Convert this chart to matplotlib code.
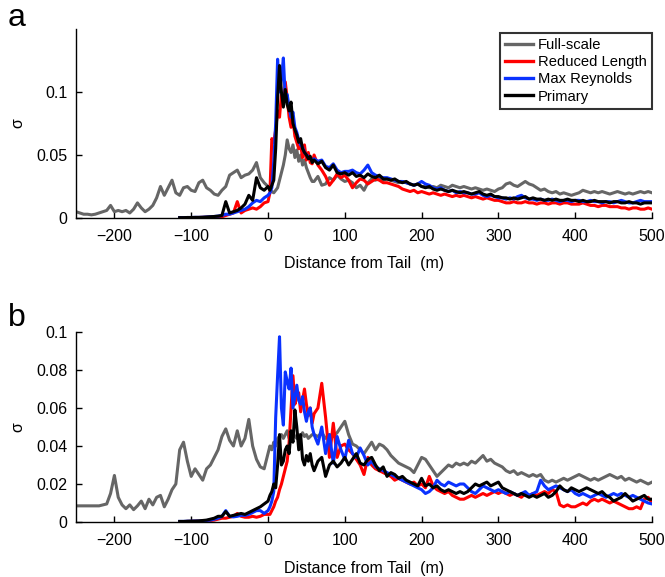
import numpy as np
import matplotlib
matplotlib.use("Agg")
import matplotlib.pyplot as plt
from matplotlib.ticker import FixedLocator, FuncFormatter

plt.rcParams['font.family'] = ['Liberation Sans', 'DejaVu Sans']

# ---------------- sampling grids (distance from tail, m) ----------------
X_PRE_G = np.arange(-250, 0, 5)          # full-scale only, before tail
X_PRE_C = np.arange(-115, 0, 5)          # other cases, before tail
X_PEAK = np.arange(0, 60, 2.5)
X_POST = np.arange(60, 500.1, 5)
XG = np.concatenate([X_PRE_G, X_PEAK, X_POST])
XC = np.concatenate([X_PRE_C, X_PEAK, X_POST])

labels = ["Full-scale", "Reduced Length", "Max Reynolds", "Primary"]
colors = ["#666666", "#ff0000", "#0a32ff", "#000000"]

# ================= panel a =================
a_full = (
    [0.005, 0.004, 0.003, 0.003, 0.0025, 0.003, 0.004, 0.005, 0.006, 0.010,
     0.005, 0.006, 0.005, 0.006, 0.004, 0.007, 0.012, 0.008, 0.005, 0.007,
     0.010, 0.016, 0.025, 0.018, 0.024, 0.030, 0.020, 0.018, 0.024, 0.025,
     0.022, 0.021, 0.028, 0.030, 0.024, 0.022, 0.019, 0.018, 0.022, 0.025,
     0.034, 0.036, 0.038, 0.032, 0.034, 0.035, 0.038, 0.044, 0.032, 0.028]
    + [0.025, 0.022, 0.021, 0.020, 0.022, 0.024, 0.030, 0.036, 0.042, 0.050,
       0.062, 0.055, 0.052, 0.058, 0.048, 0.054, 0.045, 0.050, 0.042, 0.046,
       0.040, 0.036, 0.032, 0.029]
    + [0.029, 0.033, 0.026, 0.027, 0.032, 0.030, 0.034, 0.031, 0.029,
       0.030, 0.028, 0.024, 0.026, 0.022, 0.028, 0.031, 0.030, 0.032, 0.030,
       0.031, 0.030, 0.029, 0.028, 0.029, 0.028, 0.027, 0.026, 0.027, 0.025,
       0.025, 0.024, 0.025, 0.024, 0.026, 0.025, 0.024, 0.026, 0.025, 0.024,
       0.025, 0.024, 0.023, 0.024, 0.023, 0.022, 0.023, 0.022, 0.021, 0.023,
       0.024, 0.027, 0.028, 0.026, 0.025, 0.027, 0.029, 0.027, 0.026, 0.024,
       0.022, 0.023, 0.021, 0.020, 0.021, 0.019, 0.020, 0.019, 0.018, 0.019,
       0.020, 0.022, 0.021, 0.020, 0.021, 0.020, 0.021, 0.020, 0.019, 0.020,
       0.021, 0.020, 0.019, 0.020, 0.019, 0.020, 0.021, 0.020, 0.021, 0.020]
)

a_red = (
    [0.0002, 0.0002, 0.0003, 0.0003, 0.0004, 0.0004, 0.0005, 0.0006, 0.0008, 0.0009,
     0.0010, 0.001, 0.002, 0.003, 0.004, 0.013, 0.004, 0.006, 0.007, 0.008, 0.007, 0.009, 0.012]
    + [0.013, 0.020, 0.063, 0.060, 0.070, 0.085, 0.080, 0.098, 0.090, 0.108,
       0.095, 0.080, 0.072, 0.078, 0.065, 0.060, 0.055, 0.058, 0.048, 0.058,
       0.046, 0.052, 0.044, 0.043]
    + [0.050, 0.042, 0.038, 0.033, 0.026, 0.030, 0.035, 0.032, 0.034,
       0.030, 0.024, 0.028, 0.031, 0.030, 0.027, 0.029, 0.031, 0.030, 0.028,
       0.028, 0.027, 0.026, 0.025, 0.023, 0.022, 0.021, 0.022, 0.020, 0.021,
       0.020, 0.019, 0.020, 0.019, 0.018, 0.019, 0.018, 0.017, 0.018, 0.017,
       0.018, 0.017, 0.016, 0.017, 0.016, 0.015, 0.016, 0.015, 0.014, 0.014,
       0.013, 0.012, 0.012, 0.013, 0.012, 0.012, 0.013, 0.012, 0.012, 0.011,
       0.012, 0.012, 0.011, 0.012, 0.012, 0.011, 0.012, 0.012, 0.011, 0.011,
       0.011, 0.012, 0.011, 0.010, 0.010, 0.009, 0.010, 0.010, 0.009, 0.009,
       0.009, 0.008, 0.008, 0.007, 0.008, 0.008, 0.007, 0.007, 0.008, 0.007]
)

a_blue = (
    [0.0003, 0.0003, 0.0004, 0.0004, 0.0005, 0.0005, 0.0006, 0.0008, 0.0010, 0.0012,
     0.0015, 0.002, 0.003, 0.003, 0.004, 0.005, 0.006, 0.007, 0.009, 0.012, 0.014, 0.013, 0.016]
    + [0.018, 0.020, 0.024, 0.045, 0.075, 0.126, 0.100, 0.110, 0.127, 0.095,
       0.098, 0.088, 0.080, 0.084, 0.072, 0.068, 0.062, 0.058, 0.056, 0.052,
       0.050, 0.049, 0.047, 0.046]
    + [0.047, 0.045, 0.046, 0.041, 0.040, 0.043, 0.038, 0.036, 0.037,
       0.037, 0.038, 0.036, 0.035, 0.038, 0.042, 0.036, 0.034, 0.033, 0.032,
       0.032, 0.031, 0.030, 0.029, 0.029, 0.028, 0.027, 0.026, 0.027, 0.029,
       0.027, 0.026, 0.024, 0.023, 0.024, 0.022, 0.021, 0.022, 0.020, 0.021,
       0.020, 0.020, 0.019, 0.019, 0.020, 0.018, 0.017, 0.018, 0.017, 0.016,
       0.016, 0.015, 0.016, 0.015, 0.017, 0.018, 0.016, 0.015, 0.015, 0.014,
       0.015, 0.014, 0.014, 0.015, 0.014, 0.013, 0.014, 0.014, 0.013, 0.014,
       0.014, 0.013, 0.013, 0.014, 0.013, 0.013, 0.012, 0.013, 0.013, 0.012,
       0.013, 0.014, 0.013, 0.012, 0.012, 0.013, 0.014, 0.013, 0.013, 0.013]
)

a_black = (
    [0.0003, 0.0003, 0.0004, 0.0004, 0.0005, 0.0005, 0.0006, 0.0008, 0.0010, 0.0012,
     0.0015, 0.002, 0.013, 0.004, 0.005, 0.006, 0.008, 0.011, 0.018, 0.014, 0.032, 0.024, 0.022]
    + [0.025, 0.022, 0.026, 0.030, 0.055, 0.095, 0.121, 0.100, 0.088, 0.102,
       0.090, 0.085, 0.092, 0.075, 0.070, 0.066, 0.060, 0.063, 0.055, 0.052,
       0.050, 0.047, 0.049, 0.044]
    + [0.046, 0.043, 0.045, 0.040, 0.038, 0.042, 0.036, 0.035, 0.036,
       0.034, 0.036, 0.033, 0.034, 0.032, 0.035, 0.033, 0.032, 0.034, 0.031,
       0.031, 0.030, 0.031, 0.029, 0.028, 0.029, 0.027, 0.026, 0.027, 0.025,
       0.024, 0.025, 0.023, 0.022, 0.023, 0.022, 0.021, 0.022, 0.021, 0.020,
       0.021, 0.020, 0.019, 0.020, 0.021, 0.019, 0.018, 0.019, 0.017, 0.017,
       0.016, 0.016, 0.015, 0.016, 0.015, 0.016, 0.017, 0.015, 0.016, 0.015,
       0.015, 0.014, 0.015, 0.014, 0.015, 0.014, 0.014, 0.015, 0.014, 0.014,
       0.013, 0.014, 0.013, 0.013, 0.014, 0.013, 0.013, 0.013, 0.012, 0.013,
       0.013, 0.012, 0.012, 0.013, 0.012, 0.012, 0.011, 0.012, 0.012, 0.012]
)

# ================= panel b =================
b_full = (
    [0.0085, 0.0085, 0.0085, 0.0085, 0.0085, 0.0085, 0.0085, 0.009, 0.0095, 0.015,
     0.0245, 0.013, 0.009, 0.007, 0.009, 0.0065, 0.0085, 0.011, 0.007, 0.012,
     0.009, 0.013, 0.014, 0.008, 0.012, 0.017, 0.020, 0.038, 0.042, 0.032,
     0.024, 0.028, 0.025, 0.022, 0.028, 0.030, 0.034, 0.038, 0.045, 0.049,
     0.043, 0.040, 0.048, 0.040, 0.044, 0.054, 0.040, 0.033, 0.029, 0.028]
    + [0.036, 0.040, 0.038, 0.042, 0.040, 0.044, 0.045, 0.046, 0.044, 0.046,
       0.048, 0.044, 0.046, 0.047, 0.045, 0.044, 0.046, 0.045, 0.047, 0.045,
       0.046, 0.044, 0.045, 0.046]
    + [0.046, 0.045, 0.047, 0.044, 0.046, 0.045, 0.047, 0.050, 0.053,
       0.046, 0.041, 0.040, 0.038, 0.036, 0.039, 0.042, 0.038, 0.041, 0.040,
       0.038, 0.035, 0.033, 0.031, 0.030, 0.029, 0.028, 0.026, 0.030, 0.034,
       0.033, 0.030, 0.027, 0.024, 0.026, 0.028, 0.030, 0.029, 0.031, 0.030,
       0.031, 0.030, 0.032, 0.031, 0.033, 0.035, 0.032, 0.033, 0.031, 0.030,
       0.029, 0.027, 0.026, 0.027, 0.025, 0.026, 0.025, 0.024, 0.025, 0.024,
       0.025, 0.022, 0.021, 0.022, 0.021, 0.022, 0.023, 0.022, 0.023, 0.024,
       0.025, 0.024, 0.023, 0.022, 0.023, 0.022, 0.023, 0.024, 0.025, 0.024,
       0.023, 0.024, 0.022, 0.023, 0.022, 0.021, 0.022, 0.021, 0.020, 0.021]
)

b_red = (
    [0.0002, 0.0002, 0.0003, 0.0003, 0.0004, 0.0004, 0.0005, 0.0006, 0.0008, 0.001,
     0.0015, 0.002, 0.002, 0.0025, 0.003, 0.0045, 0.003, 0.0025, 0.0025, 0.003, 0.0025, 0.003, 0.004]
    + [0.004, 0.004, 0.006, 0.008, 0.011, 0.013, 0.017, 0.020, 0.024, 0.028,
       0.032, 0.042, 0.060, 0.077, 0.062, 0.066, 0.068, 0.058, 0.064, 0.070,
       0.062, 0.056, 0.060, 0.052]
    + [0.057, 0.060, 0.073, 0.055, 0.034, 0.052, 0.034, 0.040, 0.041,
       0.038, 0.036, 0.033, 0.030, 0.025, 0.034, 0.030, 0.028, 0.027, 0.026,
       0.025, 0.024, 0.022, 0.023, 0.022, 0.021, 0.020, 0.021, 0.019, 0.020,
       0.018, 0.024, 0.019, 0.017, 0.016, 0.015, 0.016, 0.014, 0.013, 0.012,
       0.012, 0.013, 0.014, 0.013, 0.014, 0.015, 0.014, 0.015, 0.016, 0.015,
       0.016, 0.015, 0.014, 0.015, 0.014, 0.013, 0.015, 0.014, 0.015, 0.014,
       0.015, 0.016, 0.015, 0.017, 0.016, 0.009, 0.008, 0.009, 0.008, 0.008,
       0.009, 0.010, 0.009, 0.011, 0.012, 0.011, 0.012, 0.011, 0.010, 0.011,
       0.010, 0.009, 0.008, 0.007, 0.007, 0.008, 0.007, 0.012, 0.013, 0.010]
)

b_blue = (
    [0.0003, 0.0003, 0.0004, 0.0004, 0.0005, 0.0005, 0.0006, 0.0008, 0.001, 0.0015,
     0.002, 0.003, 0.006, 0.003, 0.0027, 0.003, 0.0035, 0.0035, 0.004, 0.005, 0.006, 0.006, 0.0045]
    + [0.006, 0.008, 0.011, 0.016, 0.055, 0.077, 0.0975, 0.060, 0.051, 0.079,
       0.074, 0.070, 0.081, 0.060, 0.066, 0.072, 0.064, 0.062, 0.066, 0.058,
       0.053, 0.058, 0.060, 0.050]
    + [0.046, 0.041, 0.050, 0.036, 0.046, 0.031, 0.045, 0.038, 0.033,
       0.043, 0.036, 0.034, 0.039, 0.035, 0.030, 0.032, 0.029, 0.028, 0.027,
       0.026, 0.025, 0.024, 0.023, 0.022, 0.021, 0.020, 0.019, 0.018, 0.017,
       0.015, 0.016, 0.018, 0.022, 0.020, 0.019, 0.021, 0.020, 0.019, 0.020,
       0.020, 0.018, 0.016, 0.015, 0.017, 0.019, 0.018, 0.017, 0.016, 0.017,
       0.016, 0.015, 0.016, 0.015, 0.014, 0.015, 0.016, 0.014, 0.015, 0.016,
       0.022, 0.019, 0.017, 0.018, 0.019, 0.018, 0.017, 0.016, 0.017, 0.015,
       0.014, 0.015, 0.014, 0.013, 0.014, 0.015, 0.014, 0.013, 0.014, 0.015,
       0.014, 0.015, 0.014, 0.013, 0.014, 0.013, 0.012, 0.011, 0.010, 0.0095]
)

b_black = (
    [0.0003, 0.0003, 0.0004, 0.0005, 0.0005, 0.0006, 0.0008, 0.001, 0.0015, 0.002,
     0.003, 0.003, 0.0055, 0.003, 0.0035, 0.004, 0.0045, 0.004, 0.005, 0.006, 0.007, 0.008, 0.0095]
    + [0.011, 0.014, 0.016, 0.020, 0.018, 0.030, 0.046, 0.030, 0.032, 0.038,
       0.040, 0.036, 0.048, 0.042, 0.059, 0.050, 0.038, 0.046, 0.033, 0.030,
       0.035, 0.032, 0.036, 0.030]
    + [0.027, 0.032, 0.034, 0.024, 0.030, 0.032, 0.029, 0.031, 0.034,
       0.030, 0.033, 0.036, 0.031, 0.030, 0.033, 0.034, 0.030, 0.027, 0.029,
       0.024, 0.026, 0.025, 0.023, 0.024, 0.022, 0.021, 0.020, 0.019, 0.023,
       0.019, 0.020, 0.018, 0.019, 0.017, 0.016, 0.017, 0.016, 0.015, 0.016,
       0.015, 0.016, 0.018, 0.020, 0.019, 0.020, 0.021, 0.019, 0.020, 0.021,
       0.018, 0.017, 0.016, 0.015, 0.014, 0.015, 0.014, 0.013, 0.014, 0.013,
       0.014, 0.015, 0.013, 0.014, 0.016, 0.019, 0.017, 0.016, 0.018, 0.017,
       0.016, 0.017, 0.018, 0.017, 0.016, 0.015, 0.016, 0.014, 0.013, 0.011,
       0.012, 0.013, 0.015, 0.013, 0.011, 0.012, 0.013, 0.014, 0.012, 0.012]
)

x_ticks = [-200, -100, 0, 100, 200, 300, 400, 500]
a_yticks = [0, 0.05, 0.1]
b_yticks = [0, 0.02, 0.04, 0.06, 0.08, 0.1]

# ---------------- figure ----------------
W, H = 665, 577
fig = plt.figure(figsize=(W / 100, H / 100), dpi=100)

def px_axes(left, top, right, bottom):
    return fig.add_axes([left / W, 1 - bottom / H, (right - left) / W, (bottom - top) / H])

ax_a = px_axes(76, 29, 652, 218)
ax_b = px_axes(76, 332, 652, 522)

def fmt_num(v, pos=None):
    s = ("%g" % v)
    return s.replace("-", "\u2212")

series = {
    ax_a: [a_full, a_red, a_blue, a_black],
    ax_b: [b_full, b_red, b_blue, b_black],
}

for ax, data, ylim, yt in [(ax_a, series[ax_a], 0.15, a_yticks),
                           (ax_b, series[ax_b], 0.1, b_yticks)]:
    for i, (vals, col, lab) in enumerate(zip(data, colors, labels)):
        xx = XG if i == 0 else XC
        ax.plot(xx, vals, color=col, lw=2.2, label=lab, solid_joinstyle='round')
    ax.set_xlim(-250, 500)
    ax.set_ylim(0, ylim)
    ax.xaxis.set_major_locator(FixedLocator(x_ticks))
    ax.yaxis.set_major_locator(FixedLocator(yt))
    ax.xaxis.set_major_formatter(FuncFormatter(fmt_num))
    ax.yaxis.set_major_formatter(FuncFormatter(fmt_num))
    ax.spines['top'].set_visible(False)
    ax.spines['right'].set_visible(False)
    ax.spines['left'].set_linewidth(1.0)
    ax.spines['bottom'].set_linewidth(1.0)
    ax.tick_params(direction='in', length=4, width=1.0, labelsize=11.5, pad=6)
    ax.tick_params(axis='x', pad=8)
    ax.set_xlabel("Distance from Tail  (m)", fontsize=11.5)
    ax.set_ylabel("\u03c3", fontsize=11.5)
    ax.yaxis.set_label_coords(-0.088, 0.5)

ax_a.xaxis.set_label_coords(0.5, -0.20)
ax_b.xaxis.set_label_coords(0.5, -0.205)

leg = ax_a.legend(loc='upper right', bbox_to_anchor=(1.0, 0.98), fontsize=10.6,
                  frameon=True, fancybox=False, edgecolor='black',
                  handlelength=1.9, handletextpad=0.35, labelspacing=0.22,
                  borderpad=0.35, borderaxespad=0.0)
leg.get_frame().set_linewidth(1.5)
for line in leg.get_lines():
    line.set_linewidth(2.4)

fig.text(8 / W, 1 - 18 / H, "a", fontsize=23, va='center', ha='left')
fig.text(8 / W, 1 - 318 / H, "b", fontsize=23, va='center', ha='left')

fig.savefig("out.png", dpi=100)
